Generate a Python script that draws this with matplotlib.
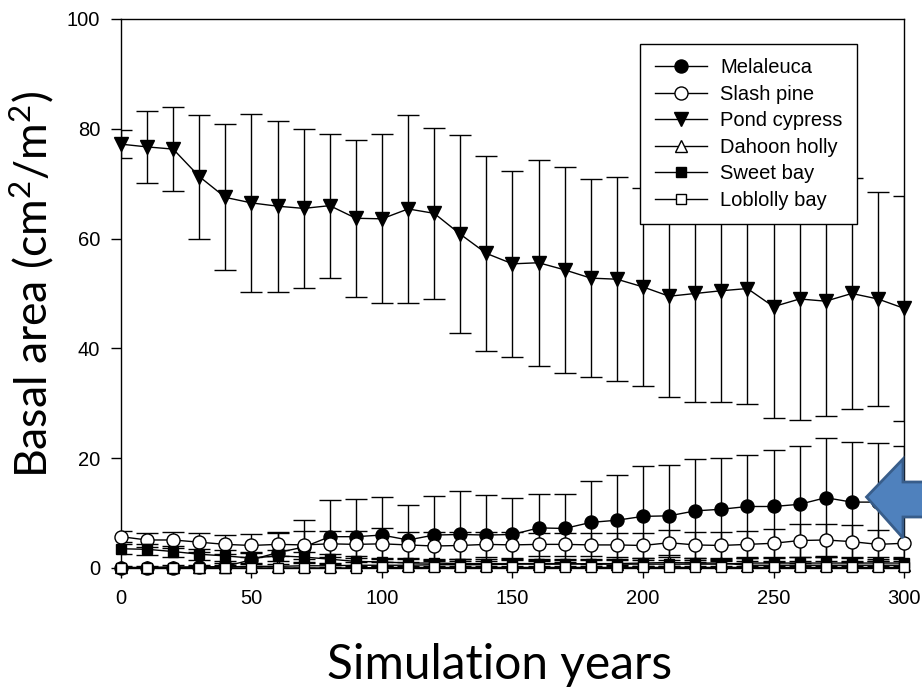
import numpy as np
import matplotlib
matplotlib.use("Agg")
import matplotlib.pyplot as plt
from matplotlib.patches import Polygon

years = np.arange(0, 301, 10)

melaleuca = [0.0, 0.0, 0.0, 0.1, 0.3, 1.5, 2.8, 3.8, 5.7, 5.7, 6.0, 5.1, 6.0, 6.1, 6.0, 6.1,
             7.3, 7.2, 8.3, 8.7, 9.4, 9.5, 10.4, 10.7, 11.2, 11.2, 11.6, 12.8, 12.0, 12.0, 12.0]
melaleuca_sd = [0.1, 0.1, 0.1, 0.3, 0.6, 1.5, 3.6, 5.0, 6.7, 6.9, 6.9, 6.3, 7.2, 8.0, 7.3, 6.6,
                6.1, 6.2, 7.5, 8.2, 9.1, 9.2, 9.4, 9.4, 9.4, 10.2, 10.7, 10.8, 10.9, 10.8, 10.2]

slash_pine = [5.7, 5.1, 5.1, 4.7, 4.3, 4.1, 4.3, 4.2, 4.4, 4.3, 4.4, 4.2, 4.0, 4.1, 4.3, 4.2,
              4.3, 4.3, 4.2, 4.2, 4.1, 4.6, 4.2, 4.1, 4.3, 4.5, 5.0, 5.1, 4.8, 4.3, 4.5]
slash_pine_sd = [1.0, 1.2, 1.4, 1.7, 1.7, 2.1, 2.2, 2.6, 2.4, 2.5, 2.8, 2.3, 2.5, 2.4, 2.3, 2.3,
                 2.1, 2.1, 2.1, 2.2, 2.2, 2.3, 2.3, 2.4, 2.4, 2.6, 3.0, 3.0, 3.0, 2.6, 2.8]

pond_cypress = [77.2, 76.7, 76.3, 71.3, 67.5, 66.5, 65.9, 65.5, 66.0, 63.7, 63.6, 65.4, 64.6,
                60.8, 57.3, 55.4, 55.6, 54.3, 52.8, 52.6, 51.2, 49.5, 50.0, 50.5, 50.9, 47.6,
                49.0, 48.6, 50.0, 49.0, 47.3]
pond_cypress_sd = [2.5, 6.6, 7.6, 11.3, 13.3, 16.2, 15.6, 14.5, 13.1, 14.3, 15.4, 17.1, 15.6,
                   18.0, 17.7, 16.9, 18.8, 18.8, 18.1, 18.6, 18.0, 18.4, 19.8, 20.3, 21.0, 20.2,
                   22.0, 21.0, 21.0, 19.5, 20.5]

dahoon_holly = [0.1, 0.1, 0.2, 0.2, 0.2, 0.3, 0.3, 0.4, 0.4, 0.5, 0.5, 0.5, 0.6, 0.6, 0.6, 0.7,
                0.7, 0.7, 0.8, 0.8, 0.9, 1.0, 0.9, 0.9, 0.5, 0.5, 0.5, 0.5, 0.5, 0.5, 0.5]
dahoon_holly_sd = [0.2, 0.2, 0.3, 0.3, 0.3, 0.4, 0.4, 0.5, 0.5, 0.6, 0.6, 0.6, 0.7, 0.7, 0.7, 0.8,
                   0.8, 0.8, 0.9, 0.9, 1.0, 1.0, 1.0, 1.0, 0.7, 0.7, 0.7, 0.7, 0.7, 0.7, 0.7]

sweet_bay = [3.5, 3.4, 3.0, 2.5, 2.2, 1.8, 2.2, 2.0, 1.6, 1.2, 1.1, 0.9, 0.9, 0.8, 0.8, 0.8,
             0.8, 0.8, 0.7, 0.7, 0.7, 0.7, 0.7, 0.7, 0.9, 0.9, 0.9, 0.9, 0.9, 0.9, 0.9]
sweet_bay_sd = [0.9, 1.0, 1.0, 1.0, 1.0, 0.9, 1.0, 1.0, 0.9, 0.9, 0.8, 0.8, 0.8, 0.8, 0.8, 0.8,
                0.8, 0.8, 0.8, 0.8, 0.8, 0.8, 0.8, 0.8, 1.1, 1.1, 1.1, 1.1, 1.1, 1.1, 1.1]

loblolly_bay = [0.0, 0.0, 0.0, 0.0, 0.0, 0.0, 0.0, 0.0, 0.0, 0.0, 0.1, 0.1, 0.1, 0.1, 0.1, 0.1,
                0.1, 0.1, 0.1, 0.1, 0.1, 0.1, 0.1, 0.1, 0.1, 0.1, 0.1, 0.1, 0.1, 0.1, 0.1]
loblolly_bay_sd = [0.0, 0.0, 0.0, 0.0, 0.0, 0.0, 0.0, 0.0, 0.1, 0.1, 0.2, 0.2, 0.2, 0.2, 0.2, 0.2,
                   0.2, 0.2, 0.2, 0.2, 0.2, 0.2, 0.2, 0.2, 0.2, 0.2, 0.2, 0.2, 0.2, 0.2, 0.2]

series = [
    ("Melaleuca", melaleuca, melaleuca_sd, "o", "black", 9.4),
    ("Slash pine", slash_pine, slash_pine_sd, "o", "white", 9.4),
    ("Pond cypress", pond_cypress, pond_cypress_sd, "v", "black", 9.5),
    ("Dahoon holly", dahoon_holly, dahoon_holly_sd, "^", "white", 9.0),
    ("Sweet bay", sweet_bay, sweet_bay_sd, "s", "black", 7.5),
    ("Loblolly bay", loblolly_bay, loblolly_bay_sd, "s", "white", 7.5),
]

plt.rcParams["font.family"] = ["Liberation Sans", "DejaVu Sans"]
plt.rcParams["mathtext.fontset"] = "custom"
plt.rcParams["mathtext.rm"] = "Lato"
plt.rcParams["mathtext.default"] = "regular"

fig = plt.figure(figsize=(9.22, 6.93), dpi=100)
ax = fig.add_axes([0.1312, 0.1804, 0.8493, 0.7922])

for i, (name, vals, sd, mk, fc, ms) in enumerate(series):
    ax.errorbar(years, vals, yerr=sd, fmt="none", ecolor="black", elinewidth=1.0,
                capsize=8, capthick=1.0, zorder=2 + i)
    ax.plot(years, vals, color="black", lw=1.0, marker=mk, markersize=ms,
            markerfacecolor=fc, markeredgecolor="black", markeredgewidth=1.0,
            label=name, clip_on=False, zorder=2 + i)

ax.set_xlim(0, 300)
ax.set_ylim(0, 100)
ax.set_xticks(np.arange(0, 301, 50))
ax.set_yticks(np.arange(0, 101, 20))
ax.tick_params(direction="out", length=7, width=1, labelsize=14.5, pad=8)
for s in ax.spines.values():
    s.set_linewidth(1.0)

ax.set_xlabel("Simulation years", fontsize=34.5, family="Lato", labelpad=25)
ax.set_ylabel("Basal area (cm$^2$/m$^2$)", fontsize=32, family="Lato", labelpad=8)
ax.xaxis.label.set_x(0.4834)
ax.yaxis.label.set_y(0.516)

leg = ax.legend(loc="upper right", bbox_to_anchor=(0.940, 0.9545), borderaxespad=0,
                fontsize=14.5, frameon=True, fancybox=False, edgecolor="black",
                framealpha=1, handlelength=2.6, labelspacing=0.37, borderpad=0.72,
                handletextpad=0.65)
leg.get_frame().set_linewidth(1.0)
leg.set_zorder(20)

# blue arrow pointing at melaleuca
W, H = 922, 693
pts = [(866.5, 497), (903, 459), (903, 482), (925, 482), (925, 517), (903, 517), (903, 538)]
arrow = Polygon([(x / W, 1 - y / H) for x, y in pts], closed=True, transform=fig.transFigure,
                facecolor="#4F81BD", edgecolor="#385D8A", linewidth=2, zorder=30)
fig.patches.append(arrow)

fig.savefig("out.png", dpi=100)
